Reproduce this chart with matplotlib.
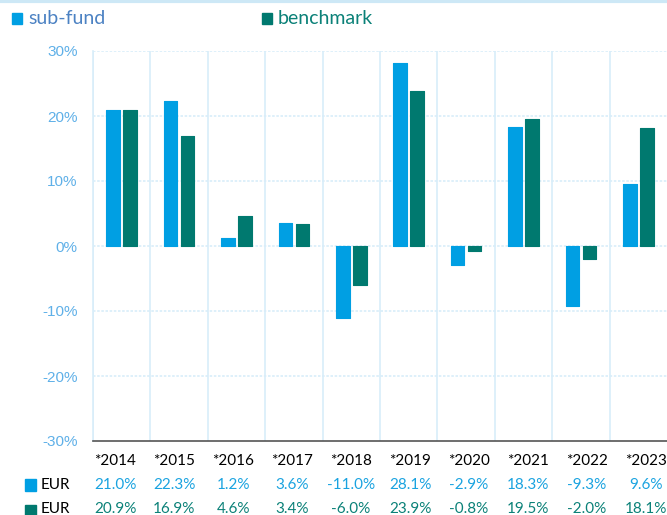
import matplotlib
matplotlib.use("Agg")
import matplotlib.pyplot as plt
import numpy as np
from matplotlib.patches import Rectangle
from matplotlib.lines import Line2D

years = ["*2014", "*2015", "*2016", "*2017", "*2018", "*2019", "*2020", "*2021", "*2022", "*2023"]
sub_fund = [21.0, 22.3, 1.2, 3.6, -11.0, 28.1, -2.9, 18.3, -9.3, 9.6]
benchmark = [20.9, 16.9, 4.6, 3.4, -6.0, 23.9, -0.8, 19.5, -2.0, 18.1]
yticks = [-30, -20, -10, 0, 10, 20, 30]

c_sub = "#009FE3"
c_bench = "#00796F"
c_sub_txt = "#1AA3E0"
c_bench_txt = "#0B8178"
c_tick = "#5FB0E8"
c_grid = "#D8EDF9"

W, H = 667, 515
fig = plt.figure(figsize=(W / 100, H / 100), dpi=100)
ax = fig.add_axes([93 / W, (H - 441) / H, 1 - 93 / W, (441 - 51) / H])

x = np.arange(len(years))
bw = 0.235
off = 0.148
ax.bar(x - off, sub_fund, bw, color=c_sub, edgecolor=c_sub, linewidth=0.8, joinstyle="round", zorder=3)
ax.bar(x + off, benchmark, bw, color=c_bench, edgecolor=c_bench, linewidth=0.8, joinstyle="round", zorder=3)

ax.set_xlim(-0.5, len(years) - 0.5)
ax.set_ylim(-30, 30)
ax.set_yticks(yticks)
ax.set_yticklabels([f"{v}%" for v in yticks], color=c_tick, fontsize=11, family="Liberation Sans")
ax.tick_params(axis="y", length=0, pad=11)
ax.set_xticks([])

for v in yticks[1:]:
    ax.axhline(v, color=c_grid, lw=1.2, ls=(0, (1.5, 1)), zorder=1)
for b in np.arange(-0.5, len(years) - 0.5, 1.0):
    ax.axvline(b, color=c_grid, lw=1.2, zorder=1)

for s in ["top", "right"]:
    ax.spines[s].set_visible(False)
ax.spines["left"].set_color(c_grid)
ax.spines["left"].set_linewidth(1.2)
ax.spines["bottom"].set_color("#555555")
ax.spines["bottom"].set_linewidth(1.2)

font = "Lato"
fs = 11


def fig_y(py):
    return 1 - py / H


# table columns (figure pixel layout of the data table under the chart)
col_x0, col_step = 115.5, 58.9
for i in range(len(years)):
    xd = (col_x0 + i * col_step) / W
    fig.text(xd, fig_y(461), years[i], ha="center", va="center", fontsize=fs, family=font, color="black")
    fig.text(xd, fig_y(485), f"{sub_fund[i]:.1f}%", ha="center", va="center", fontsize=fs,
             family=font, color=c_sub_txt)
    fig.text(xd, fig_y(509), f"{benchmark[i]:.1f}%", ha="center", va="center", fontsize=fs,
             family=font, color=c_bench_txt)

# row labels
for py, col in [(485, c_sub), (511, c_bench)]:
    fig.patches.append(Rectangle((25 / W, fig_y(py + 6)), 11 / W, 12 / H, transform=fig.transFigure,
                                 color=col, figure=fig))
    fig.text(41 / W, fig_y(min(py, 509)), "EUR", ha="left", va="center", fontsize=fs, family=font, color="black")

# legend
fig.patches.append(Rectangle((12 / W, fig_y(24)), 10 / W, 11 / H, transform=fig.transFigure,
                             color=c_sub, figure=fig))
fig.text(28 / W, fig_y(18), "sub-fund", ha="left", va="center", fontsize=14, family=font, color="#4C82C3")
fig.patches.append(Rectangle((262 / W, fig_y(24)), 10 / W, 11 / H, transform=fig.transFigure,
                             color=c_bench, figure=fig))
fig.text(278 / W, fig_y(18), "benchmark", ha="left", va="center", fontsize=14, family=font, color="#0B8178")

# top light line
fig.lines.append(Line2D([0, 1], [1 - 1 / H, 1 - 1 / H], transform=fig.transFigure, color="#CDE8F6", lw=3))

fig.savefig("out.png", dpi=100)
